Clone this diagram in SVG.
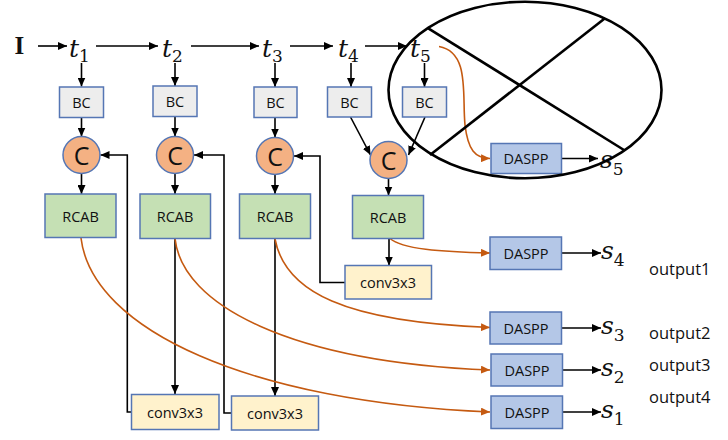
<svg xmlns="http://www.w3.org/2000/svg" width="728" height="440" viewBox="0 0 728 440">
<style>
.box{stroke:#5576B4;stroke-width:1.5}
.bc{fill:#EDEDED}
.rcab{fill:#C5E0B4}
.conv{fill:#FFF2CC}
.daspp{fill:#B4C7E7}
.circ{fill:#F4B183;stroke:#5576B4;stroke-width:1.5}
.lbl{font-family:"Open Sans","Noto Sans",sans-serif;font-size:14.5px;fill:#111;text-anchor:middle;dominant-baseline:central}
.cl{font-family:"Open Sans","Noto Sans",sans-serif;font-size:25px;fill:#111;text-anchor:middle;dominant-baseline:central}
.math{font-family:"DejaVu Serif","Liberation Serif",serif;font-style:italic;font-size:25px;fill:#111}
.sub{font-family:"DejaVu Serif","Liberation Serif",serif;font-style:normal;font-size:17px}
.out{font-family:"Open Sans","Noto Sans",sans-serif;font-size:16.5px;fill:#111}
.k{stroke:#000;stroke-width:1.6;fill:none;marker-end:url(#ak)}
.o{stroke:#C55A11;stroke-width:1.6;fill:none;marker-end:url(#ao)}
</style>
<defs>
<marker id="ak" markerUnits="userSpaceOnUse" markerWidth="9" markerHeight="8" refX="9" refY="4" orient="auto"><path d="M0,0 L9,4 L0,8 z" fill="#000"/></marker>
<marker id="ao" markerUnits="userSpaceOnUse" markerWidth="9" markerHeight="8" refX="9" refY="4" orient="auto"><path d="M0,0 L9,4 L0,8 z" fill="#C55A11"/></marker>
</defs>
<rect width="728" height="440" fill="#fff"/>

<g id="labels">
<text x="14.5" y="54.3" font-family="Liberation Serif,serif" font-weight="bold" font-size="25" fill="#111">I</text>
<text class="math" x="69" y="56.5">t<tspan class="sub" dy="5.5">1</tspan></text>
<text class="math" x="162" y="56.5">t<tspan class="sub" dy="5.5">2</tspan></text>
<text class="math" x="262" y="56.5">t<tspan class="sub" dy="5.5">3</tspan></text>
<text class="math" x="338" y="56.5">t<tspan class="sub" dy="5.5">4</tspan></text>
<text class="math" x="410" y="56.5">t<tspan class="sub" dy="5.5">5</tspan></text>
<text class="math" x="600" y="168" font-size="24">s<tspan class="sub" dy="7">5</tspan></text>
<text class="math" x="601" y="258.5" font-size="24">s<tspan class="sub" dy="7">4</tspan></text>
<text class="math" x="601" y="333.5" font-size="24">s<tspan class="sub" dy="7">3</tspan></text>
<text class="math" x="601" y="376" font-size="24">s<tspan class="sub" dy="7">2</tspan></text>
<text class="math" x="601" y="418" font-size="24">s<tspan class="sub" dy="7">1</tspan></text>
<text class="out" x="649" y="275">output1</text>
<text class="out" x="649" y="339">output2</text>
<text class="out" x="649" y="371">output3</text>
<text class="out" x="649" y="403">output4</text>
</g>

<g id="connectors">
<line class="k" x1="38" y1="46" x2="67" y2="46"/>
<line class="k" x1="96" y1="46" x2="158" y2="46"/>
<line class="k" x1="191" y1="46" x2="259" y2="46"/>
<line class="k" x1="290" y1="46" x2="333" y2="46"/>
<line class="k" x1="365" y1="46" x2="407" y2="46"/>
<line class="k" x1="81.5" y1="63" x2="81.5" y2="86.5"/>
<line class="k" x1="175" y1="63" x2="175" y2="86"/>
<line class="k" x1="275" y1="63" x2="275" y2="87"/>
<line class="k" x1="351" y1="63" x2="351" y2="87"/>
<line class="k" x1="424.5" y1="63" x2="424.5" y2="87"/>
<line class="k" x1="81.5" y1="117.5" x2="81.5" y2="136.5"/>
<line class="k" x1="175" y1="117" x2="175" y2="136.5"/>
<line class="k" x1="275" y1="117.5" x2="275" y2="137.5"/>
<line class="k" x1="350.5" y1="117" x2="370.5" y2="155"/>
<line class="k" x1="425" y1="117" x2="408.5" y2="155"/>
<line class="k" x1="81.5" y1="173.5" x2="81.5" y2="194"/>
<line class="k" x1="175" y1="173.5" x2="175" y2="194"/>
<line class="k" x1="275" y1="174.5" x2="275" y2="194"/>
<line class="k" x1="388.5" y1="178.5" x2="388.5" y2="195.5"/>
<line class="k" x1="389" y1="238.5" x2="389" y2="265.5"/>
<line class="k" x1="175" y1="238.5" x2="175" y2="394"/>
<line class="k" x1="275" y1="239" x2="275" y2="396"/>
<polyline class="k" points="131.5,412 127.3,412 127.3,155 100.5,155"/>
<polyline class="k" points="231.5,413 224,413 224,155 194,155"/>
<polyline class="k" points="345,282.5 320,282.5 320,156 294,156"/>
<line class="k" x1="562" y1="158.5" x2="598" y2="158.5"/>
<line class="k" x1="562" y1="253" x2="601" y2="253"/>
<line class="k" x1="562" y1="328" x2="601" y2="328"/>
<line class="k" x1="563" y1="370" x2="601" y2="370"/>
<line class="k" x1="563" y1="412" x2="601" y2="412"/>
<path class="o" d="M81,238 C92,330 250,402 490,412"/>
<path class="o" d="M175,238.5 C182,305 290,362 490,370"/>
<path class="o" d="M275,239 C285,292 345,322 490,327.5"/>
<path class="o" d="M390,238.5 C402,249 440,252 490,253"/>
<path class="o" d="M439,46.5 C470,52 462,95 465,125 C468,150 475,158 490,158.5"/>
</g>

<g id="bc1"><rect class="box bc" x="59.5" y="87" width="44" height="30.5"/><text class="lbl" x="81.5" y="102">BC</text></g>
<g id="bc2"><rect class="box bc" x="153" y="86" width="44" height="30.5"/><text class="lbl" x="175" y="101">BC</text></g>
<g id="bc3"><rect class="box bc" x="254" y="87" width="43" height="30.5"/><text class="lbl" x="275.5" y="102">BC</text></g>
<g id="bc4"><rect class="box bc" x="327.5" y="87" width="44" height="30"/><text class="lbl" x="349.5" y="102">BC</text></g>
<g id="bc5"><rect class="box bc" x="402.5" y="87" width="44" height="30"/><text class="lbl" x="424.5" y="102">BC</text></g>

<g id="c1"><circle class="circ" cx="81.5" cy="155" r="18.5"/><text class="cl" x="81.5" y="155">C</text></g>
<g id="c2"><circle class="circ" cx="175" cy="155" r="18.5"/><text class="cl" x="175" y="155">C</text></g>
<g id="c3"><circle class="circ" cx="275" cy="156" r="18.5"/><text class="cl" x="275" y="156">C</text></g>
<g id="c4"><circle class="circ" cx="388.5" cy="160" r="18.5"/><text class="cl" x="388.5" y="160">C</text></g>

<g id="rcab1"><rect class="box rcab" x="45" y="194" width="71" height="43.5"/><text class="lbl" x="80.5" y="216" font-size="15">RCAB</text></g>
<g id="rcab2"><rect class="box rcab" x="140" y="194" width="70.5" height="44.5"/><text class="lbl" x="175" y="216" font-size="15">RCAB</text></g>
<g id="rcab3"><rect class="box rcab" x="239.5" y="194" width="71" height="44.5"/><text class="lbl" x="275" y="216" font-size="15">RCAB</text></g>
<g id="rcab4"><rect class="box rcab" x="352.5" y="195.5" width="71" height="43"/><text class="lbl" x="388" y="217" font-size="15">RCAB</text></g>

<g id="conv1"><rect class="box conv" x="131.5" y="394.5" width="87.5" height="35"/><text class="lbl" x="175" y="412" font-size="15">conv3x3</text></g>
<g id="conv2"><rect class="box conv" x="231.5" y="396" width="87" height="34"/><text class="lbl" x="275" y="413" font-size="15">conv3x3</text></g>
<g id="conv3"><rect class="box conv" x="345" y="265.5" width="86.5" height="33.5"/><text class="lbl" x="388" y="282.5" font-size="15">conv3x3</text></g>

<g id="daspp5"><rect class="box daspp" x="491" y="143.5" width="70.5" height="30"/><text class="lbl" x="526" y="158.5">DASPP</text></g>
<g id="daspp4"><rect class="box daspp" x="490" y="237" width="71.5" height="32.5"/><text class="lbl" x="526" y="253">DASPP</text></g>
<g id="daspp3"><rect class="box daspp" x="490" y="312" width="71.5" height="32"/><text class="lbl" x="526" y="328">DASPP</text></g>
<g id="daspp2"><rect class="box daspp" x="491" y="354" width="71.5" height="32"/><text class="lbl" x="527" y="370">DASPP</text></g>
<g id="daspp1"><rect class="box daspp" x="491" y="396" width="71.5" height="32.5"/><text class="lbl" x="527" y="412">DASPP</text></g>

<g id="crossout" stroke="#000" stroke-width="2.6" fill="none">
<ellipse cx="525" cy="90" rx="136.5" ry="88.3"/>
<line x1="428.3" y1="28.3" x2="624" y2="150"/>
<line x1="605" y1="18.3" x2="430" y2="155"/>
</g>
</svg>
